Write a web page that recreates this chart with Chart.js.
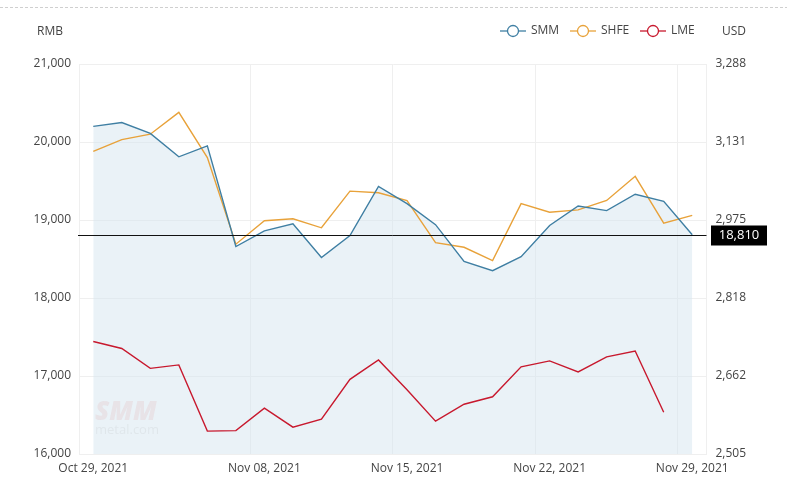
<!DOCTYPE html>
<html>
<head>
<meta charset="utf-8">
<script src="https://cdn.jsdelivr.net/npm/chart.js@4.4.1/dist/chart.umd.min.js"></script>
<style>
  html, body { margin: 0; padding: 0; background: #fff; }
  #wrap { width: 787px; height: 503px; position: relative; }
</style>
</head>
<body>
<div id="wrap"><canvas id="c" width="787" height="503"></canvas></div>
<script>
// ---- data ----
const categories = ['Oct 29, 2021','Nov 01, 2021','Nov 02, 2021','Nov 03, 2021','Nov 04, 2021','Nov 05, 2021',
  'Nov 08, 2021','Nov 09, 2021','Nov 10, 2021','Nov 11, 2021','Nov 12, 2021',
  'Nov 15, 2021','Nov 16, 2021','Nov 17, 2021','Nov 18, 2021','Nov 19, 2021',
  'Nov 22, 2021','Nov 23, 2021','Nov 24, 2021','Nov 25, 2021','Nov 26, 2021','Nov 29, 2021'];
const smm  = [20200,20250,20110,19810,19950,18660,18860,18950,18520,18800,19430,19210,18940,18470,18350,18530,18930,19180,19120,19330,19240,18810];
const shfe = [19880,20030,20100,20380,19800,18690,18990,19015,18900,19370,19350,19250,18710,18650,18480,19210,19100,19130,19250,19560,18960,19060];
const lme  = [2731,2717,2677,2684,2551,2552,2597,2559,2575,2655,2694,2634,2571,2605,2620,2680,2692,2670,2700,2712,2589,null];
const xTickLabels = ['Oct 29, 2021','Nov 08, 2021','Nov 15, 2021','Nov 22, 2021','Nov 29, 2021'];
const rmbTicks = [16000,17000,18000,19000,20000,21000];
const usdRate = 6.3869;
const seriesNames = ['SMM','SHFE','LME'];
const seriesColors = ['#3f7fa3','#e8a23a','#c8192e'];

const FONT = '"Open Sans", "Noto Sans", sans-serif';
const TXT = '#444';
const GRID = '#efefef';

const fmt = v => Math.round(v).toLocaleString('en-US');

const decor = {
  id: 'decor',
  beforeDatasetsDraw(chart) {
    const ctx = chart.ctx;
    const a = chart.chartArea;
    ctx.save();
    // watermark
    ctx.fillStyle = 'rgba(215,120,120,0.13)';
    ctx.font = 'italic 900 26px ' + FONT;
    ctx.textBaseline = 'alphabetic';
    ctx.fillText('SMM', a.left + 16, 420);
    ctx.fillStyle = 'rgba(150,150,150,0.12)';
    ctx.font = '13px ' + FONT;
    ctx.fillText('metal.com', a.left + 16, 434);
    ctx.restore();
  },
  afterDraw(chart) {
    const ctx = chart.ctx;
    const a = chart.chartArea;
    const y = chart.scales.y;
    ctx.save();
    // top dashed line
    ctx.strokeStyle = '#cfcfcf';
    ctx.lineWidth = 1;
    ctx.setLineDash([3, 2]);
    ctx.beginPath(); ctx.moveTo(0, 7.5); ctx.lineTo(787, 7.5); ctx.stroke();
    ctx.setLineDash([]);
    // axis unit labels
    ctx.fillStyle = TXT;
    ctx.font = '12px ' + FONT;
    ctx.textBaseline = 'middle';
    ctx.textAlign = 'left';
    ctx.fillText('RMB', 37, 32);
    ctx.fillText('USD', 722, 32);
    // legend
    const items = [[500, 531], [570, 601], [640, 671]];
    items.forEach((it, i) => {
      const [x0, tx] = it;
      ctx.strokeStyle = seriesColors[i];
      ctx.lineWidth = 1.3;
      ctx.beginPath(); ctx.moveTo(x0, 31); ctx.lineTo(x0 + 26, 31); ctx.stroke();
      ctx.fillStyle = '#fff';
      ctx.beginPath(); ctx.arc(x0 + 13, 31, 5.5, 0, Math.PI * 2); ctx.fill(); ctx.stroke();
      ctx.fillStyle = TXT;
      ctx.fillText(seriesNames[i], tx, 31);
    });
    // latest value line
    const last = smm[smm.length - 1];
    const py = Math.round(y.getPixelForValue(last)) + 0.5;
    ctx.strokeStyle = '#111';
    ctx.lineWidth = 1;
    ctx.beginPath(); ctx.moveTo(a.left - 1, py); ctx.lineTo(a.right, py); ctx.stroke();
    ctx.fillStyle = '#000';
    ctx.fillRect(711, py - 10, 56, 20);
    ctx.fillStyle = '#fff';
    ctx.font = '13px ' + FONT;
    ctx.textAlign = 'center';
    ctx.fillText(fmt(last), 739, py);
    ctx.restore();
  }
};

new Chart(document.getElementById('c'), {
  type: 'line',
  data: {
    labels: categories,
    datasets: [
      { label: seriesNames[0], data: smm, yAxisID: 'y', borderColor: seriesColors[0], borderWidth: 1.4,
        fill: 'start', backgroundColor: 'rgba(214,230,239,0.5)', pointRadius: 0, tension: 0 },
      { label: seriesNames[1], data: shfe, yAxisID: 'y', borderColor: seriesColors[1], borderWidth: 1.4,
        fill: false, pointRadius: 0, tension: 0 },
      { label: seriesNames[2], data: lme, yAxisID: 'y2', borderColor: seriesColors[2], borderWidth: 1.4,
        fill: false, pointRadius: 0, tension: 0, spanGaps: false }
    ]
  },
  options: {
    responsive: false,
    animation: false,
    layout: { padding: { top: 64, left: 0, right: 0, bottom: 0 } },
    plugins: { legend: { display: false }, tooltip: { enabled: false }, filler: { drawTime: 'beforeDatasetsDraw' } },
    scales: {
      x: {
        type: 'category',
        offset: true,
        grid: {
          offset: true,
          drawTicks: false,
          color: (c) => {
            const i = c.index;
            if (i === undefined || i === 0 || i === 6 || i === 11 || i === 16 || i === 21 || i === 22) return GRID;
            return 'rgba(0,0,0,0)';
          }
        },
        border: { color: GRID },
        ticks: {
          autoSkip: false, maxRotation: 0, minRotation: 0, padding: 7,
          color: TXT, font: { family: FONT, size: 12 },
          callback: function (v, i) {
            const l = this.getLabelForValue(v);
            return xTickLabels.includes(l) ? l : '';
          }
        },
        afterFit: (s) => { s.height = 49; }
      },
      y: {
        position: 'left',
        min: rmbTicks[0], max: rmbTicks[rmbTicks.length - 1],
        afterBuildTicks: (s) => { s.ticks = rmbTicks.map(v => ({ value: v })); },
        grid: { color: GRID, drawTicks: false },
        border: { color: GRID },
        ticks: { padding: 8, color: TXT, font: { family: FONT, size: 12 }, callback: (v) => fmt(v) },
        afterFit: (s) => { s.width = 79; }
      },
      y2: {
        position: 'right',
        min: rmbTicks[0] / usdRate, max: rmbTicks[rmbTicks.length - 1] / usdRate,
        afterBuildTicks: (s) => { s.ticks = rmbTicks.map(v => ({ value: v / usdRate })); },
        grid: { display: false, drawTicks: false },
        border: { color: GRID },
        ticks: { padding: 9, color: TXT, font: { family: FONT, size: 12 }, callback: (v) => fmt(v) },
        afterFit: (s) => { s.width = 80.5; }
      }
    }
  },
  plugins: [decor]
});
</script>
</body>
</html>
